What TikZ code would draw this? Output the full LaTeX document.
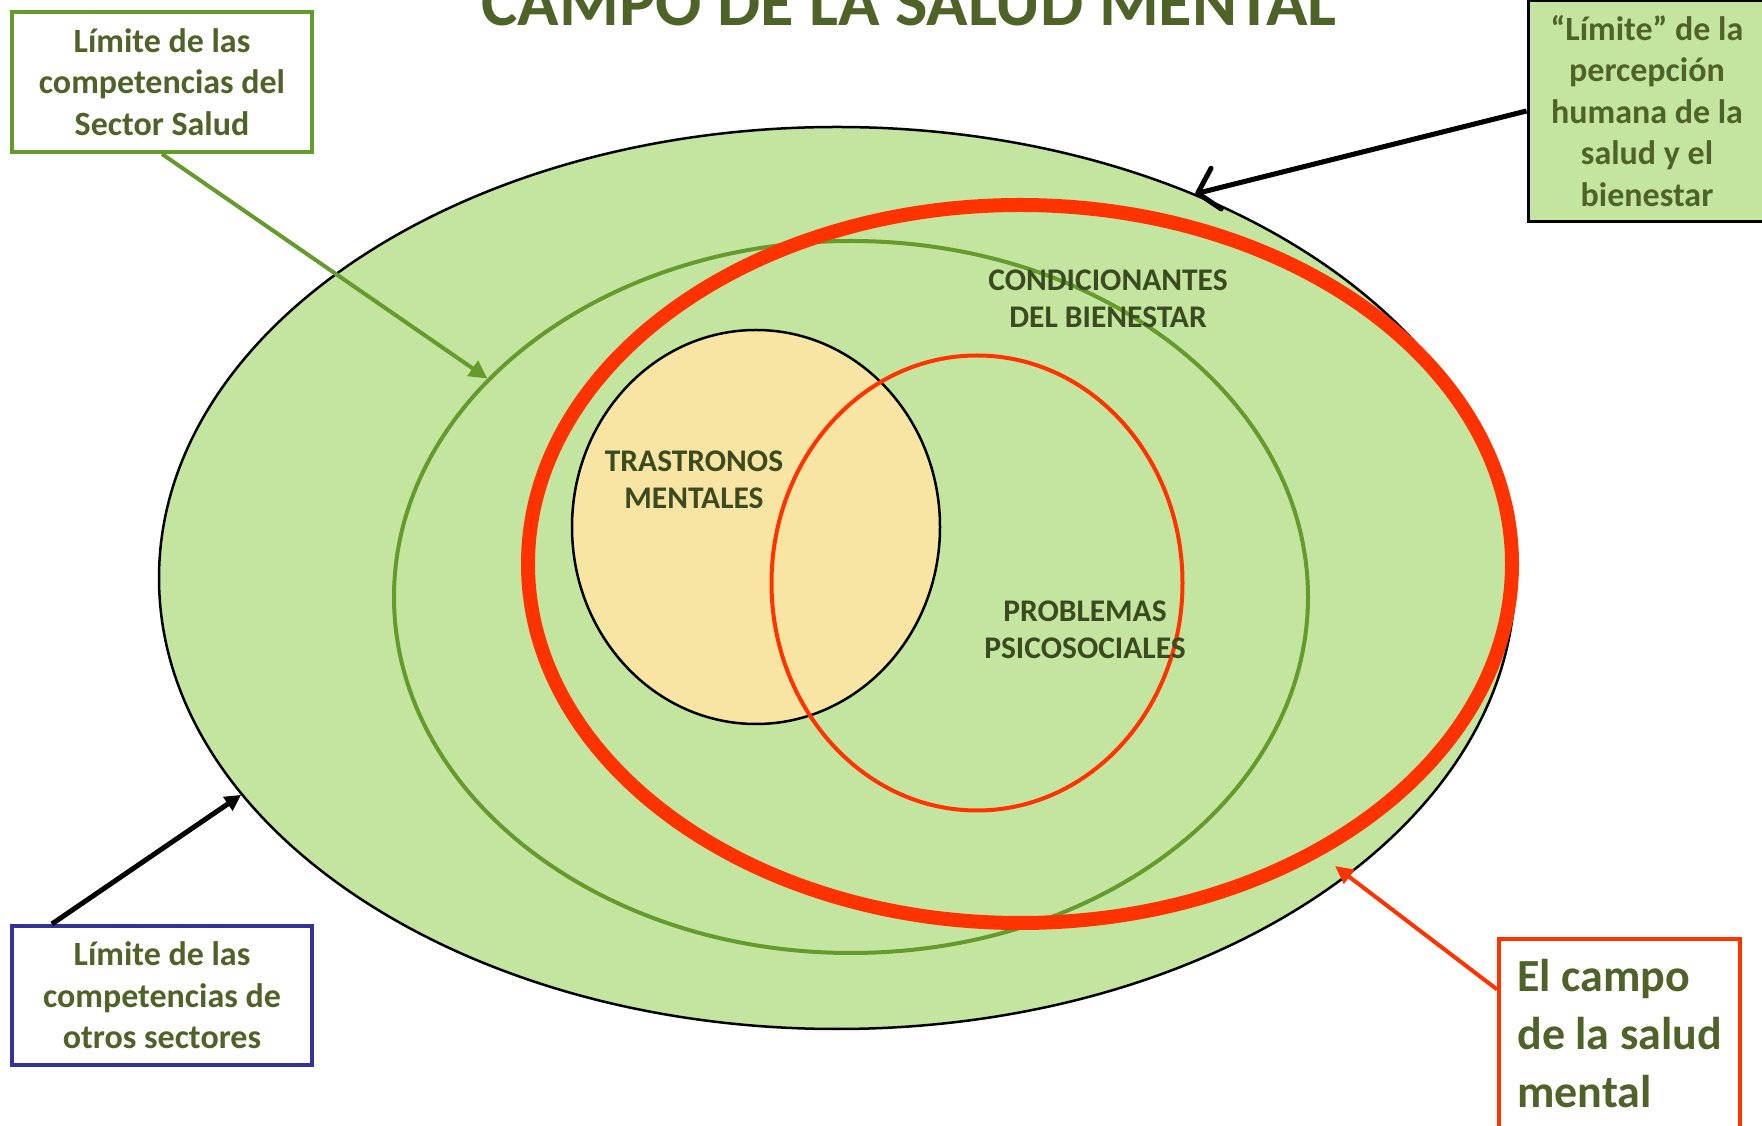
\documentclass[tikz,border=0pt]{standalone}
\usepackage{fontspec}
\setmainfont{Carlito}
\usetikzlibrary{arrows.meta, shapes.geometric}

\definecolor{fondoverde}{HTML}{C4E5A0}
\definecolor{amarillo}{HTML}{F8E5A3}
\definecolor{oliva}{HTML}{4F6228}
\definecolor{olivaosc}{HTML}{3B4A1F}
\definecolor{verdelinea}{HTML}{659A2D}
\definecolor{rojo}{HTML}{FF3300}
\definecolor{azul}{HTML}{333399}

\begin{document}
\begin{tikzpicture}[
    x=1pt, y=1pt,
    limite/.style={ellipse, inner sep=0pt},
    labelbox/.style={rectangle, line width=4pt, inner sep=0pt, align=center, text=oliva, font=\fontsize{34}{41.5}\selectfont\bfseries},
    innerlabel/.style={align=center, text=olivaosc, font=\fontsize{31.5}{37.5}\selectfont\bfseries},
    blackarrow/.style={line width=5pt, draw=black},
    greenarrow/.style={-{Triangle[length=18pt, width=18pt]}, line width=4pt, draw=verdelinea},
    redarrow/.style={-{Triangle[length=18pt, width=17pt]}, line width=4pt, draw=rojo}
]
\useasboundingbox (0,0) rectangle (1762,1125);

% titulo
\node[anchor=base, text=oliva, font=\fontsize{68.5}{80}\selectfont\bfseries] (title) at (909,1099) {CAMPO DE LA SALUD MENTAL};

% elipses
\node[limite, fill=fondoverde, draw=black, line width=2.5pt, minimum width=1356pt, minimum height=902pt] (percepcion) at (837,547) {};
\node[limite, draw=verdelinea, line width=4pt, minimum width=914pt, minimum height=712pt] (sectorsalud) at (851,528) {};
\node[limite, fill=amarillo, draw=black, line width=2.5pt, minimum width=368pt, minimum height=394pt] (trastornos) at (756,598) {};
\node[limite, draw=rojo, line width=4pt, minimum width=411pt, minimum height=455pt] (problemas) at (977,542) {};
\node[limite, draw=rojo, line width=14pt, minimum width=984pt, minimum height=718pt] (campo) at (1020,561) {};

% textos interiores
\node[innerlabel] (condtext) at (1108,826) {CONDICIONANTES\\DEL BIENESTAR};
\node[innerlabel] (trastext) at (694,645) {TRASTRONOS\\MENTALES};
\node[innerlabel] (probtext) at (1085,495) {PROBLEMAS\\PSICOSOCIALES};

% cuadros
\node[labelbox, draw=verdelinea, fill=white, minimum width=300pt, minimum height=140pt] (sectorbox) at (162,1043) {Límite de las\\competencias del\\Sector Salud};
\node[labelbox, draw=black, line width=3pt, fill=fondoverde, minimum width=238pt, minimum height=221pt] (percepbox) at (1647,1014) {“Límite” de la\\percepción\\humana de la\\salud y el\\bienestar};
\node[labelbox, draw=azul, fill=white, minimum width=300pt, minimum height=139pt] (otrosbox) at (162,129.5) {Límite de las\\competencias de\\otros sectores};
\node[labelbox, draw=rojo, fill=white, align=left, minimum width=241pt, minimum height=190pt, font=\fontsize{46}{58}\selectfont\bfseries] (campobox) at (1619.5,91) {El campo\\de la salud\\mental};

% flechas
\coordinate (campotip) at (1335,259);
\draw[greenarrow] (sectorbox.south) -- (sectorsalud.149);
\draw[blackarrow, -{Straight Barb[length=19pt, width=42pt, round]}] (percepbox.west) -- (percepcion.47);
\draw[blackarrow, -{Triangle[length=16pt, width=16pt]}] (otrosbox.147) -- (percepcion.200);
\draw[redarrow] (campobox.160) -- (campotip);
\end{tikzpicture}
\end{document}
